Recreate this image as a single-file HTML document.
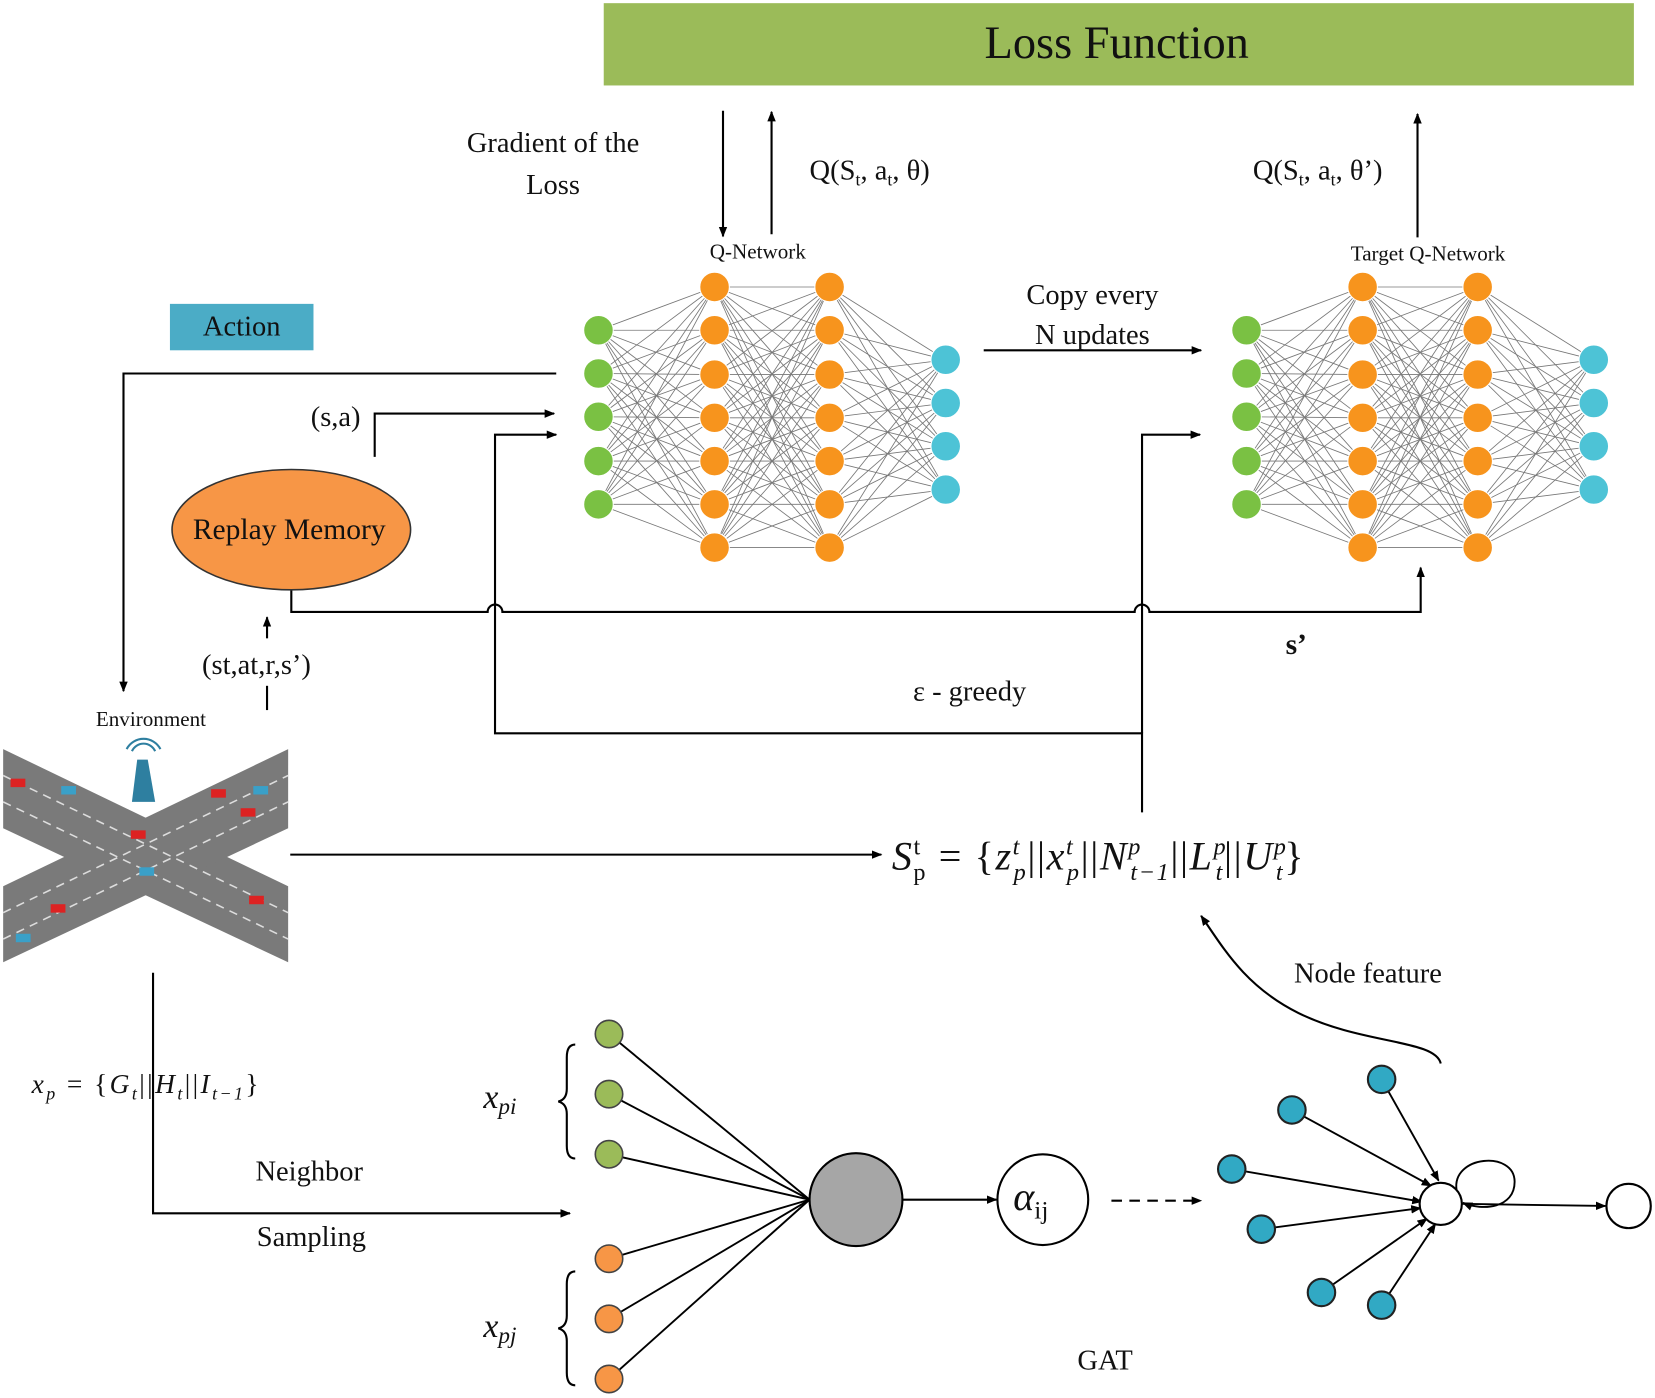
<!DOCTYPE html>
<html><head><meta charset="utf-8"><style>
html,body{margin:0;padding:0;background:#fff;}
svg{display:block;}
text{font-family:"Liberation Serif",serif;fill:#111;}
</style></head><body>
<svg id="s" width="1655" height="1398" viewBox="0 0 1568 1325" preserveAspectRatio="none" xmlns="http://www.w3.org/2000/svg">
<defs>
<marker id="a" markerWidth="10" markerHeight="10" refX="9" refY="5" orient="auto" markerUnits="userSpaceOnUse"><path d="M0,1 L10,5 L0,9 z" fill="#000"/></marker>
</defs>
<rect x="572" y="3" width="976" height="78" fill="#9bbb59"/>
<text x="1058" y="55" font-size="44" text-anchor="middle">Loss Function</text>
<g stroke="#000" stroke-width="2" fill="none">
<line x1="685" y1="105" x2="685" y2="224" marker-end="url(#a)"/>
<line x1="731" y1="222" x2="731" y2="106" marker-end="url(#a)"/>
<line x1="1343" y1="225" x2="1343" y2="108" marker-end="url(#a)"/>
<polyline points="527,354 117,354 117,655" marker-end="url(#a)"/>
<polyline points="355,433 355,392 525,392" marker-end="url(#a)"/>
<path d="M276,559 V580 H462 a7,7 0 0 1 14,0 H1075 a7,7 0 0 1 14,0 H1346 V538" marker-end="url(#a)"/>
<polyline points="1082,770 1082,695 469,695 469,412 527,412" marker-end="url(#a)"/>
<polyline points="1082,695 1082,412 1137,412" marker-end="url(#a)"/>
<line x1="932" y1="332" x2="1138" y2="332" marker-end="url(#a)"/>
<line x1="253" y1="673" x2="253" y2="650"/>
<line x1="253" y1="605" x2="253" y2="585" marker-end="url(#a)"/>
<line x1="275" y1="810" x2="835" y2="810" marker-end="url(#a)"/>
<path d="M1365,1008 C1360,985 1290,990 1230,960 C1180,935 1160,900 1138,868" marker-end="url(#a)"/>
<polyline points="145,922 145,1150 540,1150" marker-end="url(#a)"/>
<line x1="855" y1="1137" x2="944" y2="1137" marker-end="url(#a)"/>
<line x1="1053" y1="1138" x2="1138" y2="1138" stroke-dasharray="10,7" marker-end="url(#a)"/>
</g>
<text x="524" y="144" font-size="27" text-anchor="middle">Gradient of the</text>
<text x="524" y="184" font-size="27" text-anchor="middle">Loss</text>
<text x="767" y="170" font-size="27">Q(S<tspan font-size="17" dy="6">t</tspan><tspan dy="-6">, a</tspan><tspan font-size="17" dy="6">t</tspan><tspan dy="-6">, θ)</tspan></text>
<text x="1187" y="170" font-size="27">Q(S<tspan font-size="17" dy="6">t</tspan><tspan dy="-6">, a</tspan><tspan font-size="17" dy="6">t</tspan><tspan dy="-6">, θ’)</tspan></text>
<text x="718" y="245" font-size="20" text-anchor="middle">Q-Network</text>
<text x="1353" y="247" font-size="20" text-anchor="middle">Target Q-Network</text>
<text x="1035" y="288" font-size="27" text-anchor="middle">Copy every</text>
<text x="1035" y="326" font-size="27" text-anchor="middle">N updates</text>
<rect x="161" y="288" width="136" height="44" fill="#4bacc6"/>
<text x="229" y="318" font-size="27" text-anchor="middle">Action</text>
<text x="318" y="404" font-size="27" text-anchor="middle">(s,a)</text>
<ellipse cx="276" cy="502" rx="113" ry="57" fill="#f79646" stroke="#333" stroke-width="1.5"/>
<text x="274" y="511" font-size="28" text-anchor="middle">Replay Memory</text>
<text x="243" y="639" font-size="27" text-anchor="middle">(st,at,r,s’)</text>
<text x="143" y="688" font-size="20" text-anchor="middle">Environment</text>
<text x="1218" y="620" font-size="28" font-weight="bold">s’</text>
<text x="865" y="664" font-size="27">ε - greedy</text>
<g id="nets"></g>
<!-- environment -->
<g>
<polygon points="3,710 273,840 273,912 3,785" fill="#7a7a7a"/>
<polygon points="3,840 273,710 273,785 3,912" fill="#7a7a7a"/>
<g stroke="#ddd" stroke-width="1.5" stroke-dasharray="8,6" fill="none">
<line x1="3" y1="735" x2="273" y2="865"/><line x1="3" y1="760" x2="273" y2="890"/>
<line x1="3" y1="865" x2="273" y2="735"/><line x1="3" y1="890" x2="273" y2="760"/>
</g>
<polygon points="130,720 140,720 147,760 125,760" fill="#2e7fa0"/>
<path d="M125,712 a12,12 0 0 1 22,0 M120,710 a18,18 0 0 1 32,0" stroke="#2e7fa0" fill="none" stroke-width="2"/>
<rect x="10" y="738" width="14" height="8" fill="#d22"/><rect x="58" y="745" width="14" height="8" fill="#3aa0c8"/>
<rect x="200" y="748" width="14" height="8" fill="#d22"/><rect x="240" y="745" width="14" height="8" fill="#3aa0c8"/>
<rect x="228" y="766" width="14" height="8" fill="#d22"/><rect x="124" y="787" width="14" height="8" fill="#d22"/>
<rect x="132" y="822" width="14" height="8" fill="#3aa0c8"/><rect x="236" y="849" width="14" height="8" fill="#d22"/>
<rect x="48" y="857" width="14" height="8" fill="#d22"/><rect x="15" y="885" width="14" height="8" fill="#3aa0c8"/>
</g>
<text x="845" y="824" font-size="38" font-style="italic" textLength="390" lengthAdjust="spacing">S<tspan font-size="23" dy="-14" font-style="normal">t</tspan><tspan font-size="23" dx="-8" dy="24" font-style="normal">p</tspan><tspan dy="-10" font-style="normal"> = {</tspan>z<tspan font-size="23" dy="-14">t</tspan><tspan font-size="23" dx="-7" dy="24">p</tspan><tspan dy="-10" font-style="normal">||</tspan>x<tspan font-size="23" dy="-14">t</tspan><tspan font-size="23" dx="-7" dy="24">p</tspan><tspan dy="-10" font-style="normal">||</tspan>N<tspan font-size="23" dy="-14">p</tspan><tspan font-size="23" dx="-11" dy="24">t−1</tspan><tspan dy="-10" font-style="normal">||</tspan>L<tspan font-size="23" dy="-14">p</tspan><tspan font-size="23" dx="-11" dy="24">t</tspan><tspan dy="-10" font-style="normal">||</tspan>U<tspan font-size="23" dy="-14">p</tspan><tspan font-size="23" dx="-11" dy="24">t</tspan><tspan dy="-10" font-style="normal">}</tspan></text>
<text x="1296" y="931" font-size="27" text-anchor="middle">Node feature</text>
<text x="30" y="1036" font-size="26" font-style="italic" textLength="215" lengthAdjust="spacing">x<tspan font-size="17" dy="6">p</tspan><tspan dy="-6" font-style="normal"> = {</tspan>G<tspan font-size="17" dy="6">t</tspan><tspan dy="-6" font-style="normal">||</tspan>H<tspan font-size="17" dy="6">t</tspan><tspan dy="-6" font-style="normal">||</tspan>I<tspan font-size="17" dy="6">t−1</tspan><tspan dy="-6" font-style="normal">}</tspan></text>
<text x="293" y="1119" font-size="27" text-anchor="middle">Neighbor</text>
<text x="295" y="1181" font-size="27" text-anchor="middle">Sampling</text>
<text x="458" y="1050" font-size="32" font-style="italic">x<tspan font-size="22" dy="6">pi</tspan></text>
<text x="458" y="1267" font-size="32" font-style="italic">x<tspan font-size="22" dy="6">pj</tspan></text>
<path d="M545,990 q-8,0 -8,12 v30 q0,10 -8,12 q8,2 8,12 v30 q0,12 8,12" stroke="#000" stroke-width="2" fill="none"/>
<path d="M545,1205 q-8,0 -8,12 v30 q0,10 -8,12 q8,2 8,12 v30 q0,12 8,12" stroke="#000" stroke-width="2" fill="none"/>
<g stroke="#000" stroke-width="1.8">
<line x1="577" y1="980" x2="767" y2="1137"/><line x1="577" y1="1037" x2="767" y2="1137"/><line x1="577" y1="1094" x2="767" y2="1137"/>
<line x1="577" y1="1193" x2="767" y2="1137"/><line x1="577" y1="1250" x2="767" y2="1137"/><line x1="577" y1="1307" x2="767" y2="1137"/>
</g>
<g stroke="#444" stroke-width="1.5">
<circle cx="577" cy="980" r="13" fill="#9bbb59"/><circle cx="577" cy="1037" r="13" fill="#9bbb59"/><circle cx="577" cy="1094" r="13" fill="#9bbb59"/>
<circle cx="577" cy="1193" r="13" fill="#f79646"/><circle cx="577" cy="1250" r="13" fill="#f79646"/><circle cx="577" cy="1307" r="13" fill="#f79646"/>
</g>
<circle cx="811" cy="1137" r="44" fill="#a6a6a6" stroke="#000" stroke-width="2"/>
<circle cx="988" cy="1137" r="43" fill="#fff" stroke="#000" stroke-width="2"/>
<text x="960" y="1147" font-size="38" font-style="italic">α<tspan font-size="24" dy="8" font-style="normal">ij</tspan></text>
<text x="1047" y="1298" font-size="27" text-anchor="middle">GAT</text>
<g stroke="#000" stroke-width="1.8" fill="none">
<line x1="1309" y1="1023" x2="1363" y2="1119" marker-end="url(#a)"/>
<line x1="1224" y1="1052" x2="1356" y2="1124" marker-end="url(#a)"/>
<line x1="1167" y1="1108" x2="1347" y2="1139" marker-end="url(#a)"/>
<line x1="1195" y1="1165" x2="1346" y2="1145" marker-end="url(#a)"/>
<line x1="1252" y1="1225" x2="1352" y2="1155" marker-end="url(#a)"/>
<line x1="1309" y1="1237" x2="1360" y2="1160" marker-end="url(#a)"/>
<line x1="1385" y1="1141" x2="1521" y2="1143" marker-end="url(#a)"/>
<path d="M1380,1128 C1375,1095 1435,1090 1435,1120 C1435,1145 1405,1148 1386,1140" marker-end="url(#a)"/>
</g>
<circle cx="1365" cy="1141" r="20" fill="#fff" stroke="#000" stroke-width="2"/>
<circle cx="1543" cy="1143" r="21" fill="#fff" stroke="#000" stroke-width="2"/>
<g fill="#31a9c4" stroke="#222" stroke-width="2">
<circle cx="1309" cy="1023" r="13"/><circle cx="1224" cy="1052" r="13"/><circle cx="1167" cy="1108" r="13"/>
<circle cx="1195" cy="1165" r="13"/><circle cx="1252" cy="1225" r="13"/><circle cx="1309" cy="1237" r="13"/>
</g>
</svg>
<script>
(function(){
var g=document.getElementById("nets"),h="";
function net(dx){
 var L=[[567,[313,354,395,437,478],"#7ac143"],[677,[272,313,355,396,437,478,519],"#f7941d"],[786,[272,313,355,396,437,478,519],"#f7941d"],[896,[341,382,423,464],"#4dc3d6"]];
 for(var i=0;i<3;i++){var a=L[i],b=L[i+1];a[1].forEach(function(y1){b[1].forEach(function(y2){h+='<line x1="'+(a[0]+dx)+'" y1="'+y1+'" x2="'+(b[0]+dx)+'" y2="'+y2+'" stroke="#777" stroke-width="0.8"/>';});});}
 L.forEach(function(l){l[1].forEach(function(y){h+='<circle cx="'+(l[0]+dx)+'" cy="'+y+'" r="14" fill="'+l[2]+'" stroke="#fff" stroke-width="1"/>';});});
}
net(0);net(614);
g.innerHTML=h;
})();
</script>
</body></html>
